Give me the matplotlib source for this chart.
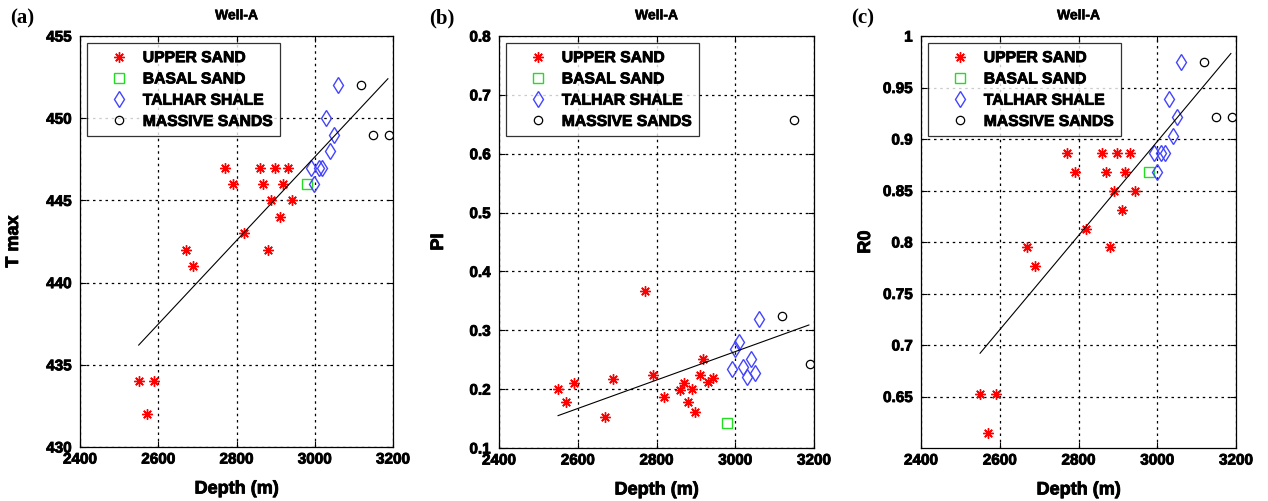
import matplotlib
matplotlib.use("Agg")
import matplotlib.pyplot as plt
import matplotlib.patheffects as pe
import numpy as np

# ---- data ----
upper_depth = [2550, 2570, 2590, 2670, 2690, 2770, 2790, 2820, 2860, 2869, 2881, 2889, 2899, 2910, 2919, 2931, 2943]
upper_tmax = [434, 432, 434, 442, 441, 447, 446, 443, 447, 446, 442, 445, 447, 444, 446, 447, 445]
upper_pi = [0.200, 0.178, 0.210, 0.153, 0.217, 0.366, 0.224, 0.187, 0.198, 0.211, 0.178, 0.201, 0.161, 0.224, 0.252, 0.212, 0.219]
upper_r0 = [0.652, 0.615, 0.652, 0.795, 0.777, 0.886, 0.868, 0.813, 0.886, 0.868, 0.795, 0.850, 0.886, 0.831, 0.868, 0.886, 0.850]

basal_depth = [2980]
basal_tmax = [446]
basal_pi = [0.142]
basal_r0 = [0.868]

talhar_depth = [2991, 2999, 3010, 3019, 3030, 3039, 3050, 3060]
talhar_tmax = [447, 446, 447, 447, 450, 448, 449, 452]
talhar_pi = [0.234, 0.268, 0.280, 0.238, 0.221, 0.251, 0.228, 0.319]
talhar_r0 = [0.886, 0.868, 0.886, 0.886, 0.939, 0.903, 0.921, 0.975]

massive_depth = [3118, 3149, 3189]
massive_tmax = [452, 449, 449]
massive_pi = [0.324, 0.657, 0.243]
massive_r0 = [0.975, 0.921, 0.921]

fit_depth = [2550, 3187]
fit_tmax = [436.2, 452.4]
fit_pi = [0.155, 0.309]
fit_r0 = [0.692, 0.983]

panels = [
    dict(tag="(a)", ylabel="T max", up=upper_tmax, ba=basal_tmax, ta=talhar_tmax, ma=massive_tmax, fit=fit_tmax,
         ylim=(430, 455), yticks=[430, 435, 440, 445, 450, 455], ytl=["430", "435", "440", "445", "450", "455"],
         rect=[80, 36, 393, 447], ylab_x=22),
    dict(tag="(b)", ylabel="PI", up=upper_pi, ba=basal_pi, ta=talhar_pi, ma=massive_pi, fit=fit_pi,
         ylim=(0.1, 0.8), yticks=[0.1, 0.2, 0.3, 0.4, 0.5, 0.6, 0.7, 0.8],
         ytl=["0.1", "0.2", "0.3", "0.4", "0.5", "0.6", "0.7", "0.8"], rect=[499, 36, 814, 448], ylab_x=447),
    dict(tag="(c)", ylabel="R0", up=upper_r0, ba=basal_r0, ta=talhar_r0, ma=massive_r0, fit=fit_r0,
         ylim=(0.6, 1.0), yticks=[0.65, 0.7, 0.75, 0.8, 0.85, 0.9, 0.95, 1.0],
         ytl=["0.65", "0.7", "0.75", "0.8", "0.85", "0.9", "0.95", "1"], rect=[921, 36, 1236, 448], ylab_x=874),
]
xticks = [2400, 2600, 2800, 3000, 3200]

W, H = 1268, 501
fig = plt.figure(figsize=(W / 100, H / 100), dpi=100)

heavy = [pe.withStroke(linewidth=0.6, foreground="black")]
tickfont = dict(family="Liberation Sans", weight="bold", size=11)

for p in panels:
    l, t, r, b = p["rect"]
    ax = fig.add_axes([l / W, 1 - b / H, (r - l) / W, (b - t) / H])
    ax.plot(upper_depth, p["up"], linestyle="none", marker=(8, 2, 0), color="red", markersize=7.5,
            markeredgewidth=1.0, label="UPPER SAND")
    ax.plot(basal_depth, p["ba"], linestyle="none", marker="s", markerfacecolor="none",
            markeredgecolor="#22dd22", markersize=6.5, markeredgewidth=1.0, label="BASAL SAND")
    ax.plot(talhar_depth, p["ta"], linestyle="none", marker="d", markerfacecolor="none",
            markeredgecolor="#4444ff", markersize=8, markeredgewidth=1.0, label="TALHAR SHALE")
    ax.plot(massive_depth, p["ma"], linestyle="none", marker="o", markerfacecolor="none",
            markeredgecolor="black", markersize=6, markeredgewidth=0.9, label="MASSIVE SANDS")
    ax.plot(fit_depth, p["fit"], color="black", linewidth=0.8)
    ax.set_xlim(2400, 3200)
    ax.set_ylim(*p["ylim"])
    ax.set_xticks(xticks)
    ax.set_xticklabels([str(v) for v in xticks], fontdict=tickfont)
    ax.set_yticks(p["yticks"])
    ax.set_yticklabels(p["ytl"], fontdict=tickfont)
    for lab in ax.get_xticklabels() + ax.get_yticklabels():
        lab.set_path_effects(heavy)
    ax.tick_params(axis="x", direction="in", length=4, width=0.8, pad=4, top=True)
    ax.tick_params(axis="y", direction="in", length=4, width=0.8, pad=6, right=True)
    ax.grid(True, color="black", linestyle=(0, (2, 3)), linewidth=0.9)
    for s in ax.spines.values():
        s.set_linewidth(0.9)
    ttl = ax.set_title("Well-A", fontsize=10, fontweight="bold", family="Liberation Sans", pad=12)
    ttl.set_path_effects([pe.withStroke(linewidth=0.4, foreground="black")])
    xl = ax.set_xlabel("Depth (m)", fontsize=13, fontweight="bold", family="Liberation Sans", labelpad=10)
    xl.set_path_effects(heavy)
    yl = ax.set_ylabel(p["ylabel"], fontsize=13, fontweight="bold", family="Liberation Sans")
    yl.set_path_effects(heavy)
    ax.yaxis.set_label_coords((p["ylab_x"] - l) / (r - l), 0.5)
    leg = ax.legend(loc="upper left", frameon=True, fancybox=False, edgecolor="black",
                    prop=dict(family="Liberation Sans", weight="bold", size=11.3),
                    borderaxespad=0.45, handlelength=3.2, handletextpad=-0.1, labelspacing=0.4,
                    borderpad=0.45)
    leg.get_frame().set_linewidth(0.9)
    for txt in leg.get_texts():
        txt.set_path_effects(heavy)
    fig.text((l - 70) / W, 1 - 18 / H, p["tag"], fontsize=15, fontweight="bold",
             family="Liberation Serif", va="center", ha="left")

fig.savefig("out.png", dpi=100)
